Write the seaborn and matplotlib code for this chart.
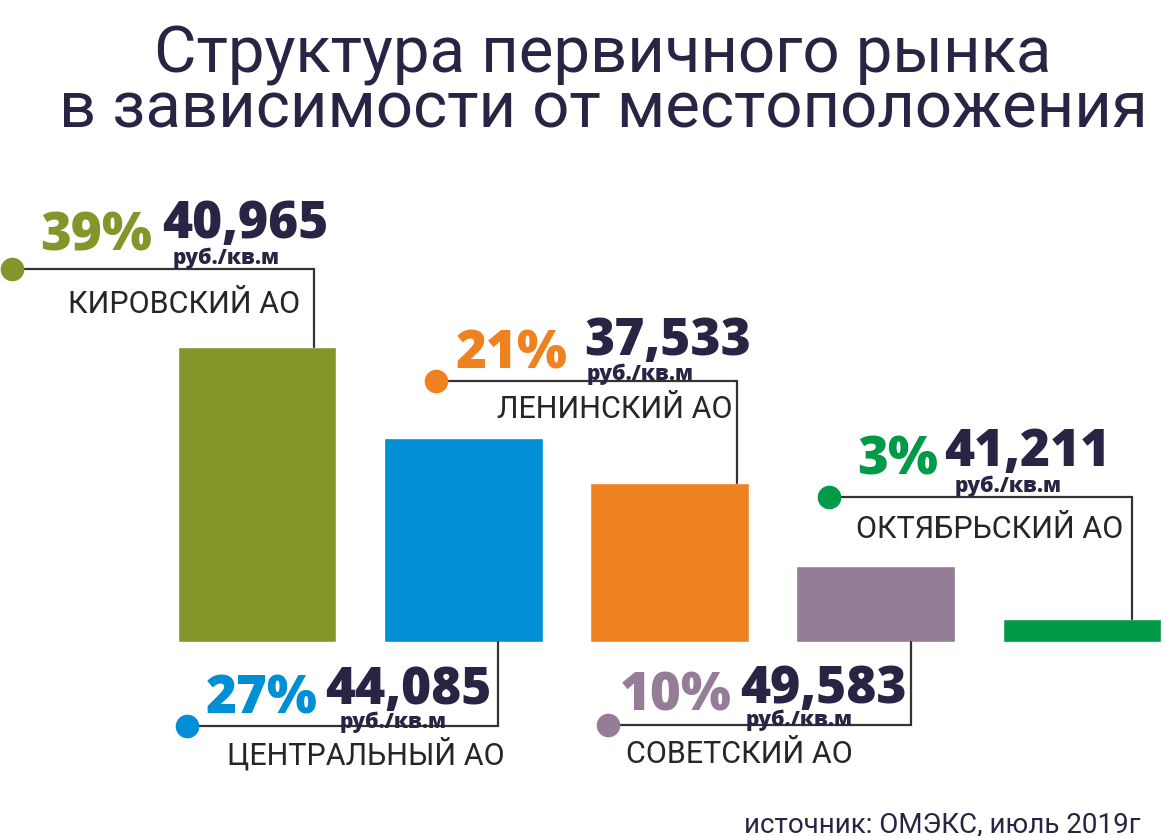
import matplotlib
matplotlib.use("Agg")
import matplotlib.pyplot as plt
import seaborn as sns

# данные
districts = ['КИРОВСКИЙ АО', 'ЦЕНТРАЛЬНЫЙ АО', 'ЛЕНИНСКИЙ АО', 'СОВЕТСКИЙ АО', 'ОКТЯБРЬСКИЙ АО']
shares = [39, 27, 21, 10, 3]
prices = ['40,965', '44,085', '37,533', '49,583', '41,211']
unit = 'руб./кв.м'
colors = ['#84962a', '#008fd5', '#ee8220', '#957c97', '#009a48']

title_lines = ['Структура первичного рынка', 'в зависимости от местоположения']
source = 'источник: ОМЭКС, июль 2019г'

NAVY = '#2a2343'
LINE = '#333333'

# раскладка выносок: (сдвиг точки, сдвиг вертикали от центра столбца, уровень линии)
callouts = [(-1.186, 0.276, 49.3),
            (-1.337, 0.169, -11.1),
            (-1.133, 0.329, 34.5),
            (-1.298, 0.169, -11.0),
            (-1.225, 0.242, 19.2)]
# смещения текста от точки в пикселях: процент, цена, единицы, подпись
offsets = [((28, 20), (150, 32), (160, 6), (56, -43)),
           ((18, 13), (138, 23), (152, -1), (40, -38)),
           ((20, 14), (148, 27), (151, 2), (61, -36)),
           ((12, 16), (132, 23), (138, 0), (18, -37)),
           ((28, 23), (115, 32), (125, 6), (27, -40))]

sns.set_theme(style='white')
plt.rcParams['font.family'] = ['Roboto', 'DejaVu Sans']

fig = plt.figure(figsize=(11.63, 8.37), dpi=100)
ax = fig.add_axes([0, 0, 1, 1])

sns.barplot(x=districts, y=shares, hue=districts, palette=colors,
            width=0.77, saturation=1, legend=False, ax=ax)

px_per_x = 206.25
px_per_y = 295 / 39
ax.set_xlim(-257 / px_per_x, (1163 - 257) / px_per_x)
ax.set_ylim(-(837 - 643) / px_per_y, 643 / px_per_y)
ax.axis('off')

num_font = dict(family=['Open Sans', 'DejaVu Sans'], weight='heavy')

for i, (dx, vx, ly) in enumerate(callouts):
    dot_x = i + dx
    bar_end = shares[i] if ly > 0 else 0
    ax.plot([dot_x, i + vx, i + vx], [ly, ly, bar_end], color=LINE, lw=1.6,
            solid_joinstyle='miter', zorder=3)
    ax.plot(dot_x, ly, 'o', ms=16, color=colors[i], zorder=4)

    o_pct, o_num, o_rub, o_lab = offsets[i]
    ax.annotate(f'{shares[i]}%', xy=(dot_x, ly), xytext=o_pct, textcoords='offset pixels',
                fontsize=38, color=colors[i], va='baseline', **num_font)
    ax.annotate(prices[i], xy=(dot_x, ly), xytext=o_num, textcoords='offset pixels',
                fontsize=37, color=NAVY, va='baseline', **num_font)
    ax.annotate(unit, xy=(dot_x, ly), xytext=o_rub, textcoords='offset pixels',
                fontsize=15, color=NAVY, va='baseline', **num_font)
    ax.annotate(districts[i], xy=(dot_x, ly), xytext=o_lab, textcoords='offset pixels',
                family='Roboto', weight='normal', fontsize=22, color='#262626', va='baseline')

for line, base in zip(title_lines, [72, 127]):
    fig.text(603 / 1163, 1 - base / 837, line, ha='center', va='baseline', fontsize=47,
             color=NAVY)
fig.text(1140 / 1163, 1 - 832 / 837, source, ha='right', va='baseline', fontsize=20,
         color=NAVY)

fig.savefig('out.png', dpi=100)
